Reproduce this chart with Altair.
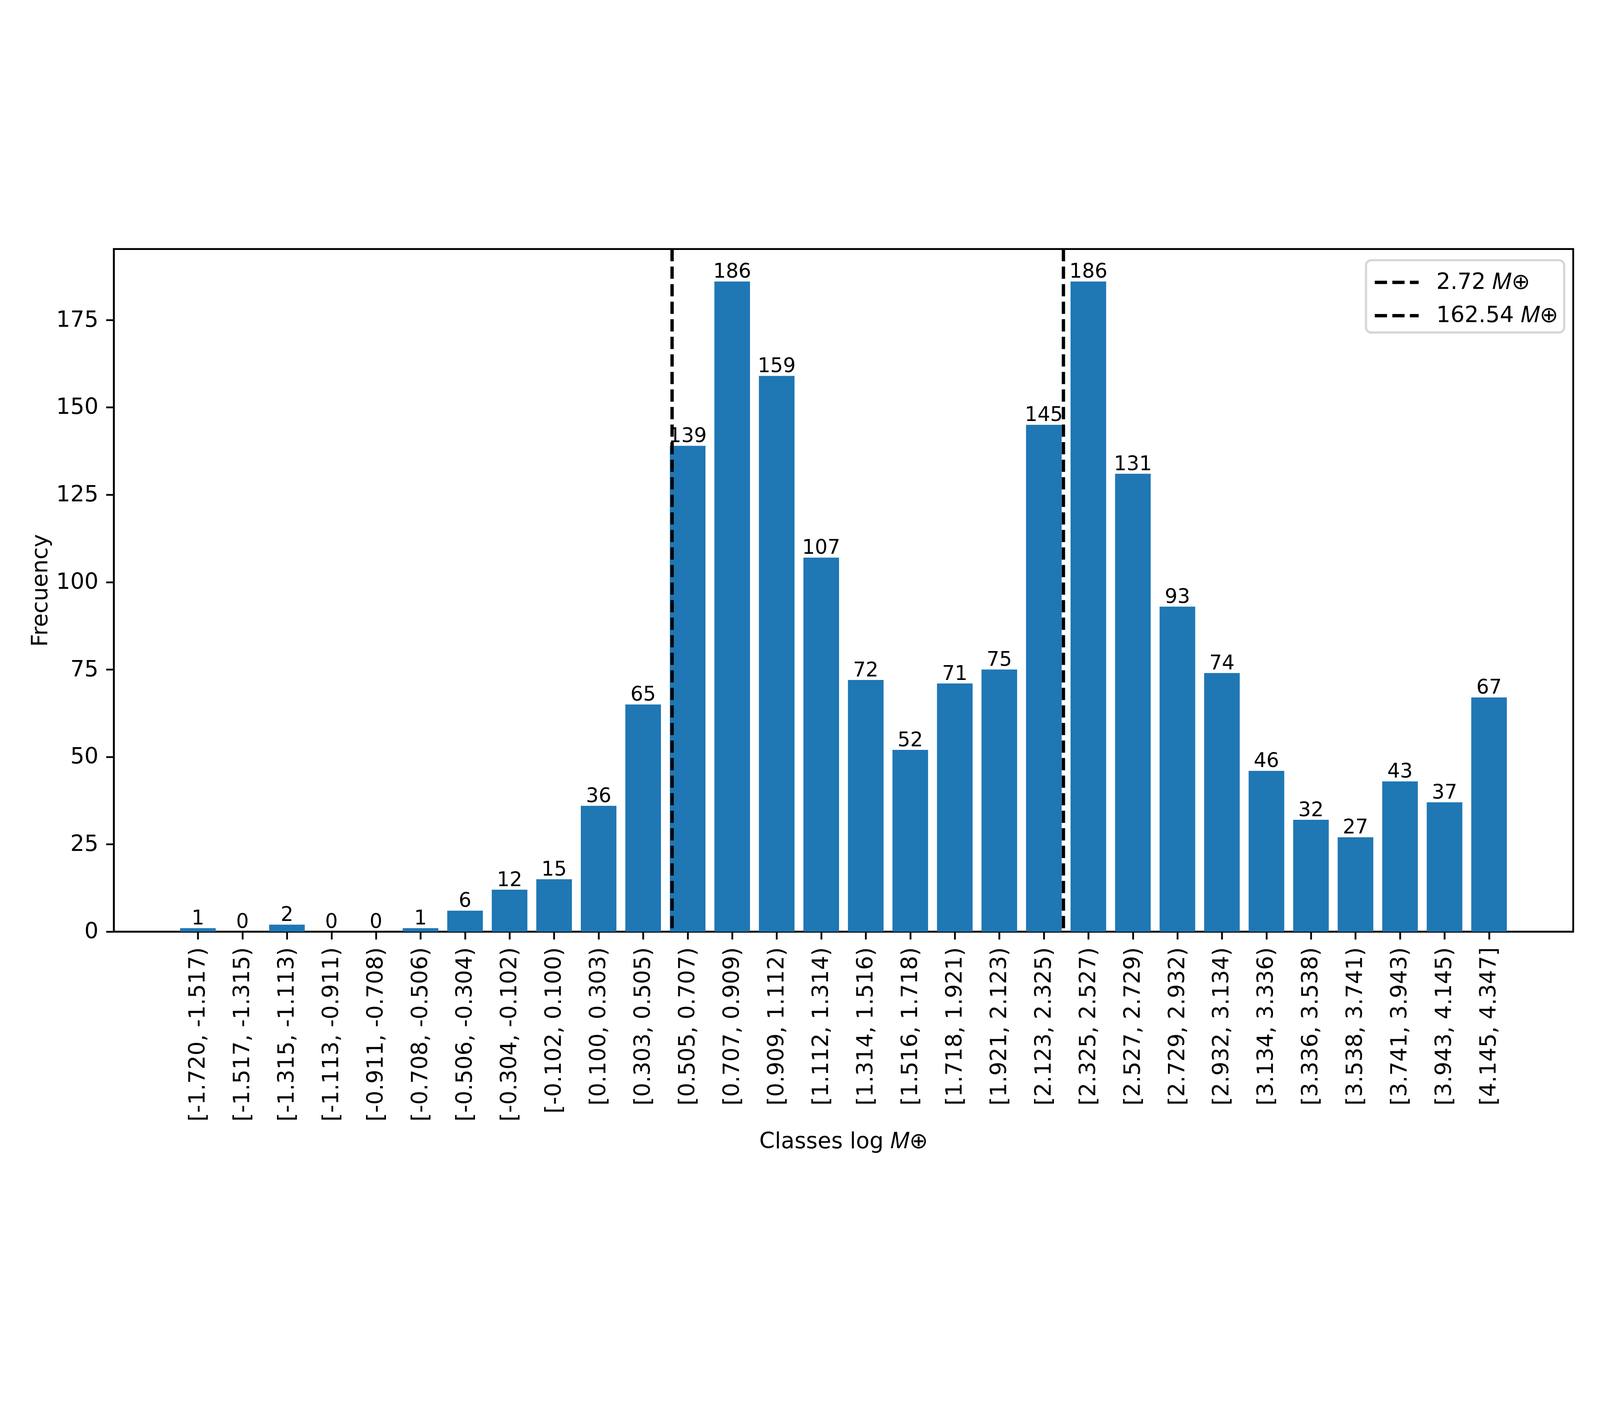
import altair as alt
import pandas as pd

# ---- data ----
class_labels = [
    "[-1.720, -1.517)", "[-1.517, -1.315)", "[-1.315, -1.113)", "[-1.113, -0.911)",
    "[-0.911, -0.708)", "[-0.708, -0.506)", "[-0.506, -0.304)", "[-0.304, -0.102)",
    "[-0.102, 0.100)", "[0.100, 0.303)", "[0.303, 0.505)", "[0.505, 0.707)",
    "[0.707, 0.909)", "[0.909, 1.112)", "[1.112, 1.314)", "[1.314, 1.516)",
    "[1.516, 1.718)", "[1.718, 1.921)", "[1.921, 2.123)", "[2.123, 2.325)",
    "[2.325, 2.527)", "[2.527, 2.729)", "[2.729, 2.932)", "[2.932, 3.134)",
    "[3.134, 3.336)", "[3.336, 3.538)", "[3.538, 3.741)", "[3.741, 3.943)",
    "[3.943, 4.145)", "[4.145, 4.347]",
]
frequencies = [1, 0, 2, 0, 0, 1, 6, 12, 15, 36, 65, 139, 186, 159, 107, 72, 52,
               71, 75, 145, 186, 131, 93, 74, 46, 32, 27, 43, 37, 67]
class_index = list(range(len(class_labels)))

line_labels = ["2.72 \U0001D440\u2295", "162.54 \U0001D440\u2295"]
line_positions = [10.65, 19.44]   # in bar-index units

y_ticks = [0, 25, 50, 75, 100, 125, 150, 175]

FONT = "DejaVu Sans"
BLUE = "#1f77b4"

bars_df = pd.DataFrame({"idx": class_index, "label": class_labels, "freq": frequencies})
lines_df = pd.DataFrame({"name": line_labels, "pos": line_positions})

x_scale = alt.Scale(domain=[-1.89, 30.89], nice=False, zero=False)
y_scale = alt.Scale(domain=[0, 195.3], nice=False, zero=True)

# tick label lookup as a chain of conditionals
label_expr = "''"
for i in reversed(class_index):
    label_expr = "datum.value == %d ? '%s' : (%s)" % (i, class_labels[i], label_expr)

x_axis = alt.Axis(
    values=class_index,
    labelExpr=label_expr,
    labelAngle=270,
    labelAlign="right",
    labelBaseline="middle",
    labelOverlap=False,
    labelFlush=False,
    labelLimit=3000,
    title="Classes log \U0001D440\u2295",
    titleX=2743.5,
    titleY=814,
    titleAlign="center",
    titleBaseline="alphabetic",
)
y_axis = alt.Axis(
    values=y_ticks,
    title="Frecuency",
    titlePadding=33,
    labelAlign="right",
    labelBaseline="middle",
)

bars = (
    alt.Chart(bars_df)
    .transform_calculate(x0="datum.idx - 0.4", x1="datum.idx + 0.4")
    .mark_bar(color=BLUE)
    .encode(
        x=alt.X("x0:Q", scale=x_scale, axis=x_axis),
        x2="x1:Q",
        y=alt.Y("freq:Q", scale=y_scale, axis=y_axis),
        y2=alt.datum(0),
    )
)

texts = (
    alt.Chart(bars_df)
    .mark_text(dy=-14, baseline="alphabetic", align="center", fontSize=75,
               font=FONT, color="black")
    .encode(
        x=alt.X("idx:Q", scale=x_scale, axis=x_axis),
        y=alt.Y("freq:Q", scale=y_scale, axis=y_axis),
        text="freq:Q",
    )
)

rules = (
    alt.Chart(lines_df)
    .mark_rule(strokeWidth=12.5, strokeDash=[46, 20])
    .encode(
        x=alt.X("pos:Q", scale=x_scale, axis=x_axis),
        color=alt.Color(
            "name:N",
            scale=alt.Scale(domain=line_labels, range=["black", "black"]),
            sort=line_labels,
            legend=alt.Legend(
                title=None,
                orient="none",
                legendX=4708,
                legendY=42,
                symbolType="M-1.5,0L1.5,0",
                symbolSize=12100,
                symbolStrokeWidth=12.5,
                symbolDash=[46, 20],
                symbolOffset=32,
                labelOffset=87.5,
                labelLimit=2000,
                padding=22,
                rowPadding=22,
                labelFont=FONT,
                labelFontSize=83.33,
                labelColor="black",
                strokeColor="#d6d6d6",
                fillColor="white",
                cornerRadius=20,
            ),
        ),
    )
)

chart = (
    alt.layer(bars, texts, rules)
    .properties(
        width=5487,
        height=2567,
        autosize=alt.AutoSizeParams(type="none"),
        padding={"left": 416, "top": 83, "right": 89, "bottom": 942},
        background="white",
    )
    .configure_view(stroke="black", strokeWidth=6.7)
    .configure_axis(
        grid=False,
        domainColor="black",
        domainWidth=6.7,
        tickColor="black",
        tickWidth=6.7,
        tickSize=29,
        labelPadding=29,
        labelFont=FONT,
        labelFontSize=83.33,
        labelColor="black",
        titleFont=FONT,
        titleFontSize=83.33,
        titleFontWeight="normal",
        titleColor="black",
    )
    .configure_legend(strokeWidth=8.3)
)

chart.save("out.html", embed_options={"renderer": "svg", "actions": False})
